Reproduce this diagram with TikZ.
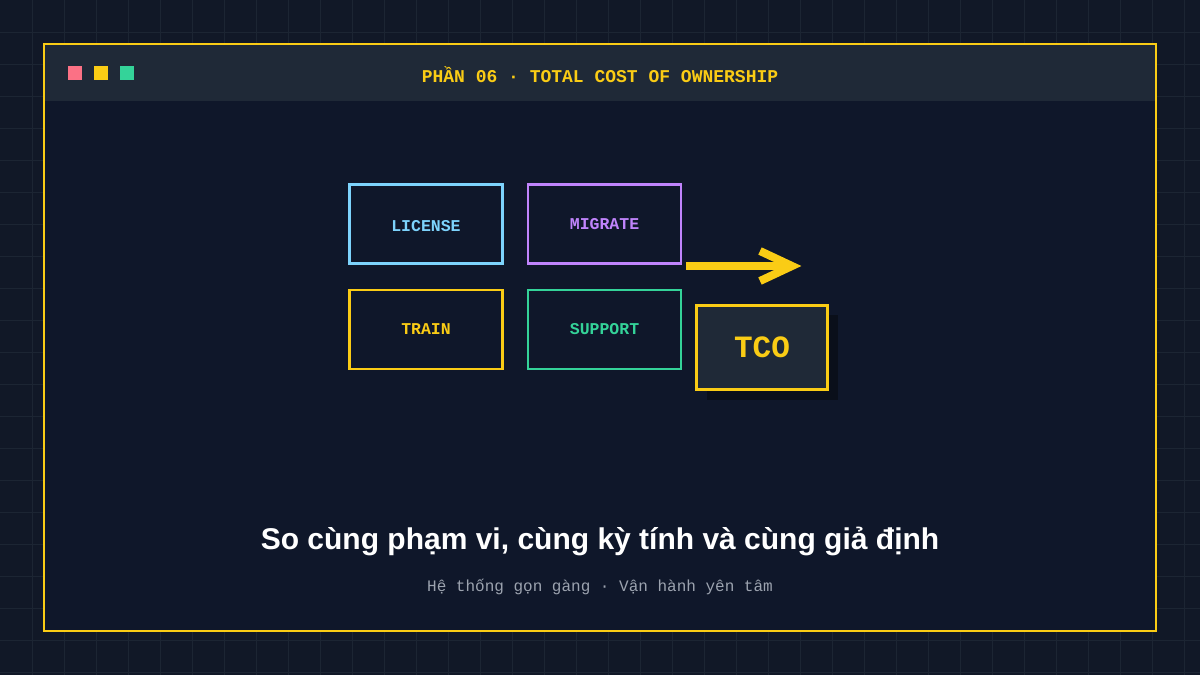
\documentclass[tikz,border=0pt]{standalone}
\usepackage{fontspec}
\setmainfont{Liberation Sans}
\newfontfamily\mono{Liberation Mono}
\definecolor{bg}{HTML}{111827}
\definecolor{gridc}{HTML}{1C2533}
\definecolor{panel}{HTML}{0F172A}
\definecolor{bar}{HTML}{1F2937}
\definecolor{ylw}{HTML}{FACC15}
\definecolor{blu}{HTML}{7DD3FC}
\definecolor{pur}{HTML}{C084FC}
\definecolor{grn}{HTML}{34D399}
\definecolor{red}{HTML}{FB7185}
\definecolor{gry}{HTML}{9CA3AF}
\definecolor{shd}{HTML}{0A0F1A}
\begin{document}
\begin{tikzpicture}[x=1pt,y=-1pt,
  box/.style={draw=#1,line width=2.5pt,minimum width=153pt,minimum height=79pt,text=#1,font=\mono\bfseries\fontsize{16.5}{16.5}\selectfont},
  sq/.style={fill=#1,minimum size=14pt,inner sep=0pt}]
\fill[bg] (0,0) rectangle (1200,675);
\useasboundingbox (0,0) rectangle (1200,675);
\foreach \i in {32,64,...,1184} \draw[gridc,line width=0.8pt] (\i,0) -- (\i,675);
\foreach \i in {32,64,...,672} \draw[gridc,line width=0.8pt] (0,\i) -- (1200,\i);
\fill[panel] (44,44) rectangle (1156,631);
\fill[bar] (45,45) rectangle (1155,101);
\draw[ylw,line width=2.5pt] (44,44) rectangle (1156,631);
\node[sq=red] (s1) at (75,73) {};
\node[sq=ylw] (s2) at (101,73) {};
\node[sq=grn] (s3) at (127,73) {};
\node[text=ylw,font=\mono\bfseries\fontsize{18}{18}\selectfont] (title) at (600,75) {PHẦN 06 · TOTAL COST OF OWNERSHIP};
\node[box=blu,text depth=0pt] (lic) at (426,224) {\raisebox{-4pt}{LICENSE}};
\node[box=pur] (mig) at (604.5,224) {\raisebox{-4pt}{MIGRATE}};
\node[box=ylw] (trn) at (426,329.5) {\raisebox{-4pt}{TRAIN}};
\node[box=grn] (sup) at (604.5,329.5) {\raisebox{-4pt}{SUPPORT}};
\fill[shd] (707,315) rectangle (838,400);
\node[draw=ylw,fill=bar,line width=2.5pt,minimum width=131pt,minimum height=84pt,text=ylw,font=\mono\bfseries\fontsize{31}{31}\selectfont] (tco) at (762,347.5) {TCO};
\coordinate (a1) at (686,266);
\coordinate (a2) at (790,266);
\draw[ylw,line width=8pt] (a1) -- (a2);
\draw[ylw,line width=8pt,line join=miter] (760,251) -- (792,266) -- (760,281);
\node[text=white,font=\bfseries\fontsize{30}{30}\selectfont] (head) at (600,541) {So cùng phạm vi, cùng kỳ tính và cùng giả định};
\node[text=gry,font=\mono\fontsize{16}{16}\selectfont] (sub) at (600,587) {Hệ thống gọn gàng · Vận hành yên tâm};
\end{tikzpicture}
\end{document}
